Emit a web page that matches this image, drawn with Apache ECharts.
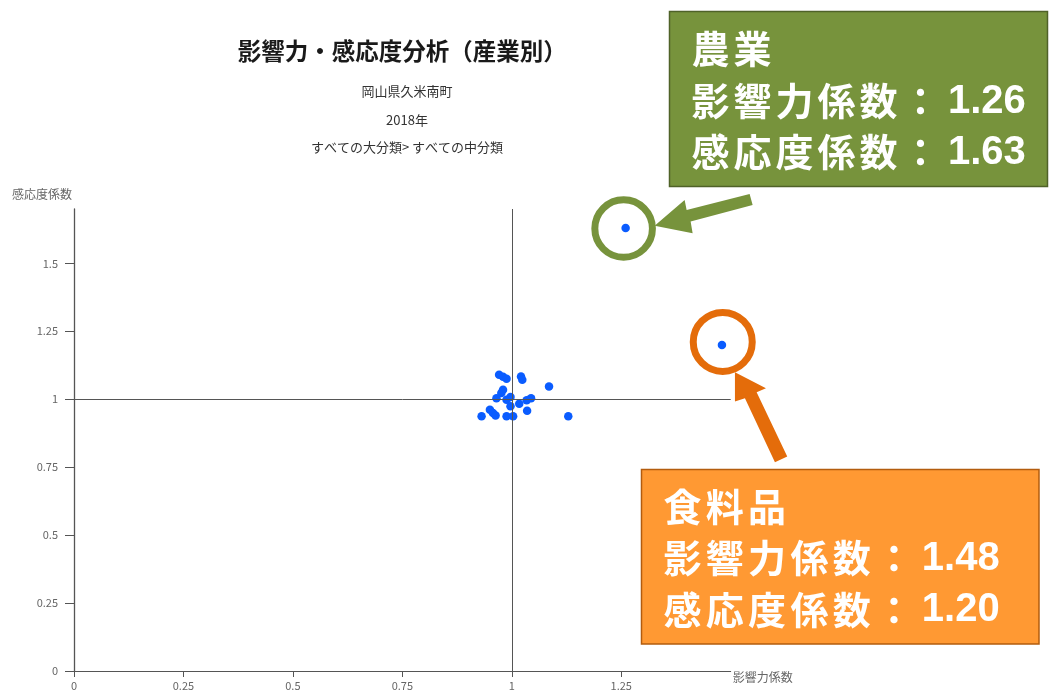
<!DOCTYPE html>
<html><head><meta charset="utf-8">
<script src="https://cdn.jsdelivr.net/npm/echarts@6/dist/echarts.min.js"></script>
<style>html,body{margin:0;padding:0;background:#fff}#c{width:1049px;height:691px}</style>
</head><body><div id="c"></div>
<script>
const titleText = '影響力・感応度分析（産業別）';
const subtitleLines = ['岡山県久米南町', '2018年', 'すべての大分類> すべての中分類'];
const xAxisName = '影響力係数';
const yAxisName = '感応度係数';
const xTicks = [0, 0.25, 0.5, 0.75, 1, 1.25];
const yTicks = [0, 0.25, 0.5, 0.75, 1, 1.25, 1.5];
const influence   = [0.971, 0.980, 0.988, 1.021, 1.024, 1.085, 0.980, 0.976, 0.965, 0.988, 0.997, 0.997, 1.017, 1.034, 1.044, 1.035, 0.950, 0.957, 0.963, 0.931, 0.988, 1.003, 1.129, 1.26, 1.48];
const sensitivity = [1.090, 1.083, 1.075, 1.084, 1.072, 1.047, 1.035, 1.023, 1.004, 0.998, 1.008, 0.974, 0.983, 0.996, 1.004, 0.958, 0.961, 0.949, 0.940, 0.937, 0.937, 0.937, 0.937, 1.63, 1.20];
const agriculture = { name: '農業', influence: 1.26, sensitivity: 1.63 };
const food = { name: '食料品', influence: 1.48, sensitivity: 1.20 };
const coefLabels = ['影響力係数：', '感応度係数：'];

const FONT = '"Noto Sans CJK JP", "Noto Sans", sans-serif';
const chart = echarts.init(document.getElementById('c'), null, { renderer: 'canvas' });

const option = {
  animation: false,
  backgroundColor: '#fff',
  grid: { left: 74, right: 318.3, top: 209, bottom: 19.3, containLabel: false },
  xAxis: {
    type: 'value', min: 0, max: 1.5,
    name: xAxisName, nameLocation: 'end', nameGap: 2,
    nameTextStyle: { color: '#666', fontSize: 12, fontFamily: FONT, align: 'left', verticalAlign: 'top' },
    axisLine: { show: true, onZero: false, lineStyle: { color: '#555', width: 1 } },
    axisTick: { show: true, length: 6, customValues: xTicks, lineStyle: { color: '#555' } },
    axisLabel: { customValues: xTicks, margin: 9, color: '#666', fontSize: 11, fontFamily: FONT },
    splitLine: { show: false }
  },
  yAxis: {
    type: 'value', min: 0, max: 1.7,
    name: yAxisName, nameLocation: 'end', nameGap: 9,
    nameTextStyle: { color: '#666', fontSize: 12, fontFamily: FONT, align: 'right', padding: [0, 2, 0, 0] },
    axisLine: { show: true, onZero: false, lineStyle: { color: '#555', width: 1.3 } },
    axisTick: { show: true, length: 9, customValues: yTicks, lineStyle: { color: '#555' } },
    axisLabel: { customValues: yTicks, margin: 16, color: '#666', fontSize: 11, fontFamily: FONT },
    splitLine: { show: false }
  },
  series: [{
    type: 'scatter',
    symbolSize: 8.5,
    itemStyle: { color: '#0a5cff', opacity: 1 },
    data: influence.map((v, i) => [v, sensitivity[i]]),
    markLine: {
      silent: true, symbol: 'none', animation: false,
      label: { show: false },
      lineStyle: { color: '#555', width: 1, type: 'solid' },
      emphasis: { disabled: true },
      data: [{ xAxis: 1 }, { yAxis: 1 }]
    },
    z: 3
  }]
};
chart.setOption(option);

// ---------- overlay annotations ----------
const g = [];
g.push({ type: 'text', x: 402.3, y: 51.5, style: { text: titleText, fill: '#1a1a1a', font: 'bold 23.5px ' + FONT, textAlign: 'center', textVerticalAlign: 'middle' } });
const subY = [91, 120, 147.5];
subtitleLines.forEach((t, i) => g.push({ type: 'text', x: 407, y: subY[i], style: { text: t, fill: '#333', font: '13px ' + FONT, textAlign: 'center', textVerticalAlign: 'middle' } }));

function spacedLine(str, x, y, pitch, num) {
  const chars = Array.from(str);
  chars.forEach((ch, i) => g.push({ type: 'text', x: x + i * pitch, y: y, z: 20,
    style: { text: ch, fill: '#fff', font: 'bold 38px ' + FONT, textAlign: 'left', textVerticalAlign: 'middle' } }));
  if (num !== undefined) {
    g.push({ type: 'text', x: x + chars.length * pitch + 4.5, y: y + 1, z: 20,
      style: { text: num, fill: '#fff', font: 'bold 40px "Liberation Sans", Arial, sans-serif', textAlign: 'left', textVerticalAlign: 'middle' } });
  }
}
function box(x, y, w, h, fill, stroke, info, tx, ty, lineGap, pitch) {
  g.push({ type: 'rect', z: 15, shape: { x: x, y: y, width: w, height: h }, style: { fill: fill, stroke: stroke, lineWidth: 1.5 } });
  spacedLine(info.name, tx, ty, pitch);
  spacedLine(coefLabels[0], tx, ty + lineGap, pitch, info.influence.toFixed(2));
  spacedLine(coefLabels[1], tx, ty + 2 * lineGap, pitch, info.sensitivity.toFixed(2));
}
box(669.5, 11.5, 378, 175, '#77933C', '#4F6228', agriculture, 691.5, 49, 51.5, 42);
box(641.5, 469.5, 397.5, 174.5, '#FF9933', '#B35C0E', food, 663.5, 506.5, 51.3, 42.3);

const pa = chart.convertToPixel({ seriesIndex: 0 }, [agriculture.influence, agriculture.sensitivity]);
const pf = chart.convertToPixel({ seriesIndex: 0 }, [food.influence, food.sensitivity]);
g.push({ type: 'circle', z: 10, shape: { cx: pa[0] - 2, cy: pa[1] + 0.5, r: 28.8 }, style: { fill: 'none', stroke: '#77933C', lineWidth: 7 } });
g.push({ type: 'circle', z: 10, shape: { cx: pf[0] + 0.8, cy: pf[1] - 3, r: 29.5 }, style: { fill: 'none', stroke: '#E46C0A', lineWidth: 7 } });
const arrowA = [[29, -2.3], [59, -28], [61, -18], [124, -34], [127, -23], [65, -6.5], [67, 5.3]];
const arrowF = [[13, 27.3], [44, 43.3], [34.7, 47.3], [65.3, 111.7], [53, 117.3], [23, 53.3], [13, 56.7]];
g.push({ type: 'polygon', z: 10, shape: { points: arrowA.map(p => [pa[0] + p[0], pa[1] + p[1]]) }, style: { fill: '#77933C' } });
g.push({ type: 'polygon', z: 10, shape: { points: arrowF.map(p => [pf[0] + p[0], pf[1] + p[1]]) }, style: { fill: '#E46C0A' } });

chart.setOption({ graphic: g });
</script></body></html>
